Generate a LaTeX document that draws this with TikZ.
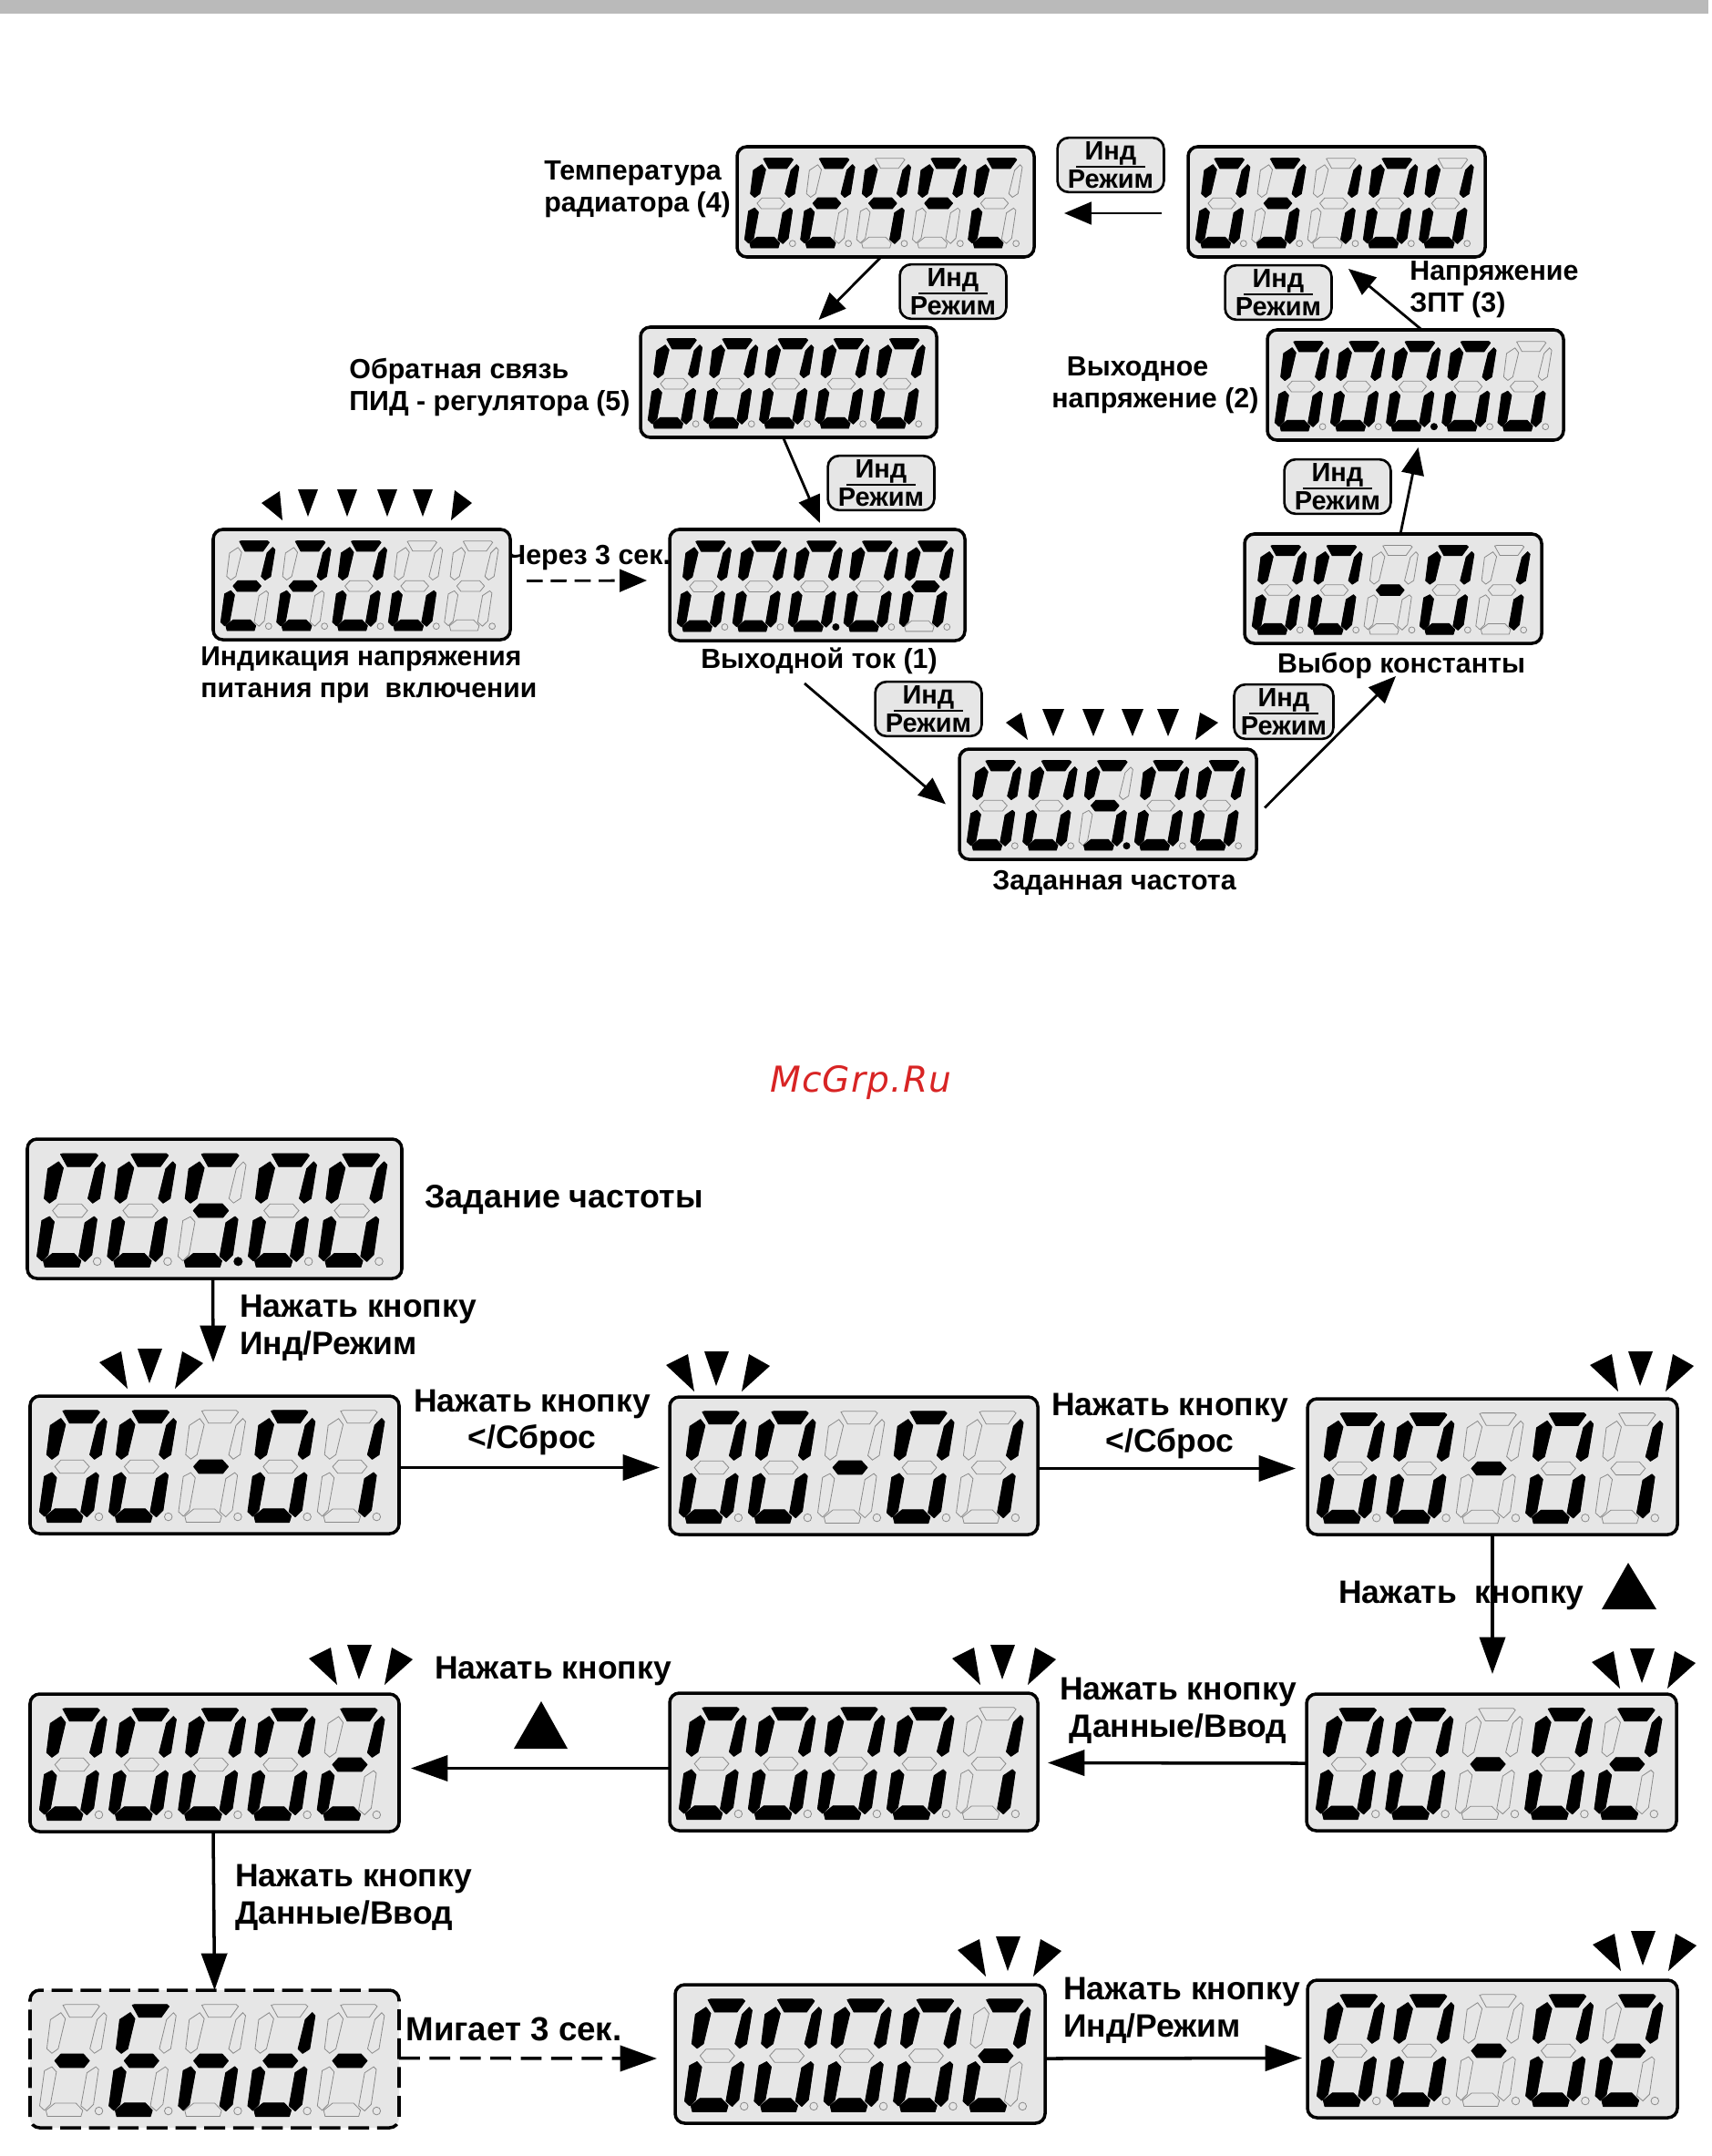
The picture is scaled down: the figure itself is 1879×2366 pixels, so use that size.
\documentclass[tikz,border=0pt]{standalone}
\usepackage{fontspec}
\setmainfont{Liberation Sans}
\newfontfamily\wmfont[LetterSpace=3]{DejaVu Sans}
\usetikzlibrary{arrows.meta,calc}
\definecolor{panel}{HTML}{E6E6E6}
\definecolor{wmred}{HTML}{D82424}
\definecolor{segoff}{HTML}{8A8A8A}
\tikzset{
  dispbox/.style={draw=black,fill=panel,line width=2pt,rounded corners=6pt,inner sep=0pt,outer sep=0pt},
  dashbox/.style={dispbox,dash pattern=on 13pt off 5pt},
  btnbox/.style={draw=black,fill=panel,line width=1.5pt,rounded corners=7pt,inner sep=0pt,outer sep=0pt,minimum width=66.5pt,minimum height=34pt},
  btntext/.style={inner sep=0pt,font=\fontsize{16.5}{18}\selectfont\bfseries},
  lit/.style={fill=black,draw=black,line width=0.6pt,line join=round},
  unlit/.style={draw=segoff,line width=0.45pt},
  lbl/.style={inner sep=0pt,align=left,font=\fontsize{17.3}{20}\selectfont\bfseries},
  lblc/.style={lbl,align=center},
  big/.style={inner sep=0pt,align=left,font=\fontsize{20.2}{23.2}\selectfont\bfseries},
  bigc/.style={big,align=center},
  arrt/.style={line width=1.6pt,-{Triangle[length=17pt,width=14pt]}},
  arrb/.style={line width=2pt,-{Triangle[length=23pt,width=16pt]}},
}
% seven segments, drawn in the frame of a panel 1233 x 458
\newcommand\sega{(110,50)--(118,48)--(225,48)--(232,54)--(206,90)--(132,90)--cycle}
\newcommand\segf{(103,75)--(118,95)--(94,195)--(73,210)--(56,195)--(68,98)--cycle}
\newcommand\segb{(247,75)--(256,85)--(238,195)--(215,210)--(200,195)--(224,98)--cycle}
\newcommand\segg{(83,235)--(103,213)--(178,213)--(198,235)--(180,257)--(100,257)--cycle}
\newcommand\sege{(73,255)--(88,272)--(68,380)--(48,400)--(32,385)--(48,268)--cycle}
\newcommand\segc{(220,255)--(229,264)--(212,380)--(190,402)--(170,385)--(190,275)--cycle}
\newcommand\segd{(53,400)--(83,376)--(153,376)--(176,400)--(170,420)--(58,420)--cycle}
\newcommand\segn{}
\newcommand\ddigit[2]{%
  \begin{scope}[shift={({232*#1},0)}]
    \foreach \s in {a,b,c,d,e,f,g}{\path[unlit] \csname seg\s\endcsname;}
    \path[unlit] (230,402) circle (13);
    \edef\litlist{#2}%
    \foreach \s in \litlist {\path[lit] \csname seg\s\endcsname;}
  \end{scope}}
\newcommand\zz{a,b,c,d,e,f}
\newcommand\two{a,b,g,e,d}
\newcommand\one{b,c}
\newcommand\uu{c,d,e}
% name, x1,y1,x2,y2, box style
\newcommand\panel[6]{%
  \node[#6,minimum width={(#4-#2)*0.02cm},minimum height={(#5-#3)*0.02cm}] (#1) at ({(#2+#4)/2},{(#3+#5)/2}) {};
  \def\panx{#2}\def\pany{#3}\pgfmathsetmacro\panxs{(#4-#2)/1233}\pgfmathsetmacro\panys{(#5-#3)/458}}
% five digits, then index of the lit dot (-1 for none)
\newcommand\digits[6]{%
  \begin{scope}[shift={(\panx,\pany)},xscale=\panxs,yscale=\panys]
    \ddigit{0}{#1}\ddigit{1}{#2}\ddigit{2}{#3}\ddigit{3}{#4}\ddigit{4}{#5}
    \ifnum#6>-1 \fill[black] ({232*#6+230},402) circle (15);\fi
  \end{scope}}
\newcommand\tripple[2]{%
  \begin{scope}[shift={(#1,#2)}]
    \fill (-24,6)--(-55,-23)--(-31,-35)--cycle;
    \fill (-13,-38)--(14,-38)--(0,0)--cycle;
    \fill (28,6)--(36,-35)--(59,-22)--cycle;
  \end{scope}}
\newcommand\btn[4][]{%
  \node[btnbox,#1] (#2) at (#3,#4) {};
  \node[btntext] at ($(#2)+(0,-13)$) {Инд};
  \node[btntext] at ($(#2)+(0,16)$) {Режим};
  \draw[line width=1.2pt] ($(#2)+(-38,2)$) -- ($(#2)+(38,2)$);}
\begin{document}
\begin{tikzpicture}[x=0.02cm,y=-0.02cm]
\useasboundingbox (0,0) rectangle (1879,2366);
\fill[black!27] (0,0) rectangle (1875,15);

% labels clipped by panels come first
\node[lblc] (lthree) at (646,612) {Через 3 сек.};

% upper ring
\panel{T}{809}{161}{1135}{282}{dispbox}
\digits{\zz}{\two}{b,c,f,g}{a,b,f,g}{a,f,e,d}{-1}
\panel{U}{1304}{161}{1630}{282}{dispbox}
\digits{\zz}{a,b,g,c,d}{\one}{\zz}{b,c,d,e,f}{-1}
\panel{F}{703}{359}{1028}{480}{dispbox}
\digits{\zz}{\zz}{\zz}{\zz}{\zz}{-1}
\panel{V}{1391}{362}{1716}{483}{dispbox}
\digits{\zz}{\zz}{\zz}{\zz}{\uu}{2}
\panel{P}{234}{581}{560}{702}{dispbox}
\digits{\two}{\two}{\zz}{\uu}{n}{-1}
\panel{I}{735}{581}{1059}{703}{dispbox}
\digits{\zz}{\zz}{\zz}{\zz}{a,b,c,e,f,g}{2}
\panel{C}{1366}{586}{1692}{706}{dispbox}
\digits{\zz}{\zz}{g}{\zz}{\one}{-1}
\panel{S}{1053}{822}{1379}{943}{dispbox}
\digits{\zz}{\zz}{a,f,g,c,d}{\zz}{\zz}{2}

\btn{ba}{1219}{181}
\btn{bb}{1046}{320}
\btn{bc}{1403}{321}
\btn{bd}{967}{530}
\btn{be}{1468}{534}
\btn{bf}{1019}{778}
\btn[minimum width=62pt]{bg}{1409}{781}

% lower sequence
\panel{AA}{30}{1250}{441}{1403}{dispbox}
\digits{\zz}{\zz}{a,f,g,c,d}{\zz}{\zz}{2}
\panel{BA}{33}{1532}{438}{1683}{dispbox}
\digits{\zz}{\zz}{g}{\zz}{\one}{-1}
\panel{BB}{735}{1533}{1139}{1684}{dispbox}
\digits{\zz}{\zz}{g}{\zz}{\one}{-1}
\panel{BC}{1435}{1535}{1841}{1684}{dispbox}
\digits{\zz}{\zz}{g}{\zz}{\one}{-1}
\panel{CA}{33}{1859}{438}{2010}{dispbox}
\digits{\zz}{\zz}{\zz}{\zz}{\two}{-1}
\panel{CB}{735}{1858}{1139}{2009}{dispbox}
\digits{\zz}{\zz}{\zz}{\zz}{\one}{-1}
\panel{CC}{1434}{1859}{1840}{2009}{dispbox}
\digits{\zz}{\zz}{g}{\zz}{\two}{-1}
\panel{DA}{33}{2184}{438}{2335}{dashbox}
\digits{g}{a,f,g,e,d}{g,e,c}{b,g,e,c,d}{g}{-1}
\panel{DB}{741}{2178}{1147}{2330}{dispbox}
\digits{\zz}{\zz}{\zz}{\zz}{\two}{-1}
\panel{DC}{1435}{2173}{1841}{2324}{dispbox}
\digits{\zz}{\zz}{g}{\zz}{\two}{-1}

% blink marks
\tripple{164}{1518}\tripple{786}{1521}\tripple{1800}{1521}
\tripple{394}{1843}\tripple{1100}{1843}\tripple{1802}{1847}
\tripple{1106}{2163}\tripple{1803}{2157}
\fill (310,571)--(287,552)--(307,539)--cycle;
\fill (495,571)--(499,538)--(518,552)--cycle;
\foreach \px in {338,381,425,464}{\fill (\px-11,537)--(\px+11,537)--(\px,567)--cycle;}
\fill (1128,812)--(1104,793)--(1121,782)--cycle;
\fill (1312,812)--(1317,782)--(1337,793)--cycle;
\foreach \px in {1156,1200,1243,1282}{\fill (\px-12,778)--(\px+12,778)--(\px,808)--cycle;}

% button triangles
\fill (1787,1715)--(1758,1766)--(1818,1766)--cycle;
\fill (594,1867)--(564,1919)--(623,1919)--cycle;

% labels
\node[lbl,anchor=west] (lt) at (597,208) {Температура\\радиатора (4)};
\node[lbl,anchor=west] (lf) at (383,425) {Обратная связь\\ПИД - регулятора (5)};
\node[lbl,anchor=west,font=\fontsize{17.1}{20}\selectfont\bfseries] (lp) at (220,741) {Индикация напряжения\\питания при\ \ включении};
\node[lblc] (li) at (899,725) {Выходной ток (1)};
\node[lblc] (ls) at (1223,969) {Заданная частота};
\node[lblc] (lc) at (1538,730) {Выбор константы};
\node[lbl,anchor=west] (lv) at (1154,423) {\hspace*{9.4pt}Выходное\\напряжение (2)};
\node[lbl,anchor=west] (lu) at (1547,318) {Напряжение\\ЗПТ (3)};
\node[big,anchor=west,font=\fontsize{20.4}{23.2}\selectfont\bfseries] (la) at (466,1317) {Задание частоты};
\node[big,anchor=west] (lb) at (263,1457) {Нажать кнопку\\Инд/Режим};
\node[bigc] (lc1) at (584,1561) {Нажать кнопку\\</Сброс};
\node[bigc] (lc2) at (1284,1565) {Нажать кнопку\\</Сброс};
\node[bigc] (ld) at (1604,1751) {Нажать\ \ кнопку};
\node[bigc] (le) at (607,1834) {Нажать кнопку};
\node[bigc] (lg) at (1293,1877) {Нажать кнопку\\Данные/Ввод};
\node[big,anchor=west] (lh) at (258,2082) {Нажать кнопку\\Данные/Ввод};
\node[bigc,font=\fontsize{20.9}{23.2}\selectfont\bfseries] (lm) at (564,2227) {Мигает 3 сек.};
\node[big,anchor=west] (ln) at (1167,2206) {Нажать кнопку\\Инд/Режим};
\node[inner sep=0pt,text=wmred,font=\wmfont\itshape\fontsize{22.3}{26}\selectfont] (wm) at (945,1188) {McGrp.Ru};

% connectors, upper ring
\coordinate (ua) at (1275,234);
\coordinate (ub) at (1168,234);
\draw[arrt] (ua) -- (ub);
\draw[arrt] ($(T.south)+(-5,0)$) -- ($(F.north)+(33,-8)$);
\draw[arrt] ($(F.south)+(-6,0)$) -- ($(I.north)+(3,-7)$);
\draw[arrt,dash pattern=on 10pt off 5pt] ($(P.east)+(18,-4)$) -- ($(I.west)+(-25,-5)$);
\draw[arrt] ($(I.south)+(-14,47)$) -- ($(S.west)+(-15,0)$);
\draw[arrt] ($(S.east)+(9,4)$) -- ($(C.south)+(3,36)$);
\draw[arrt] ($(C.north)+(8,0)$) -- ($(V.north)+(3,8+121)$);
\draw[arrt] ($(V.north)+(7,0)$) -- ($(U.south)+(13,13)$);

% connectors, lower sequence
\draw[arrb] ($(AA.south)+(-2,0)$) -- ($(BA.north)+(-1.5,-37)$);
\draw[arrb] ($(BA.east)+(0,3)$) -- ($(BB.west)+(-11,2)$);
\draw[arrb] ($(BB.east)+(0,3)$) -- ($(BC.west)+(-13,2)$);
\draw[arrb] (BC.south) -- ($(CC.north)+(1,-22)$);
\draw[arrb] ($(CC.west)+(0,1)$) -- ($(CB.east)+(11,1)$);
\draw[arrb] ($(CB.west)+(0,7)$) -- ($(CA.east)+(13,6)$);
\draw[arrb] ($(CA.south)+(-1.5,0)$) -- (DA.north);
\draw[arrb,dash pattern=on 13pt off 6pt] ($(DA.east)+(0,-1)$) -- ($(DB.west)+(-20,5)$);
\draw[arrb] ($(DB.east)+(0,5)$) -- ($(DC.west)+(-6,10)$);
\end{tikzpicture}
\end{document}
